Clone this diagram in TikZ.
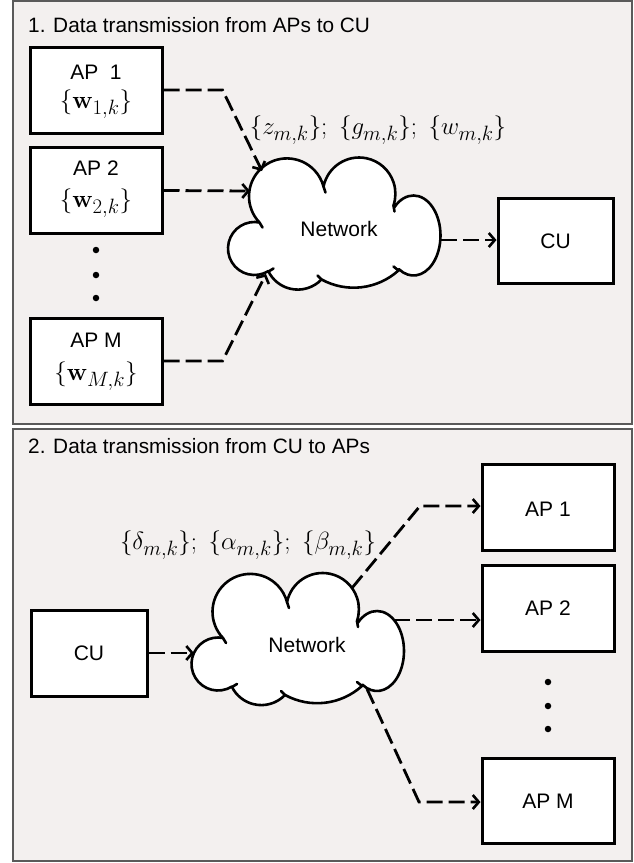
\documentclass[tikz,border=0pt]{standalone}
\usepackage[no-math]{fontspec}
\newfontfamily\sansf{Liberation Sans}
\usetikzlibrary{arrows.meta}
\definecolor{panelbg}{RGB}{243,240,239}
\definecolor{panelline}{RGB}{90,90,90}
\tikzset{
  panel/.style={draw=panelline,line width=1.4pt,fill=panelbg},
  box/.style={draw=black,line width=3pt,fill=white,minimum width=132pt,minimum height=86pt,inner sep=0pt},
  txt/.style={font=\sansf\fontsize{21}{25}\selectfont,inner sep=0pt},
  ttl/.style={font=\sansf\fontsize{20.8}{25}\selectfont,inner sep=0pt},
  mtxt/.style={font=\fontsize{24.88}{29}\selectfont,inner sep=0pt},
  cloudline/.style={draw=black,line width=2.6pt,fill=white,line join=round},
  link/.style={line width=2.8pt,dash pattern=on 16pt off 6pt,-{Straight Barb[length=6pt,width=14pt,line width=2.6pt]}},
  dotn/.style={circle,fill=black,inner sep=0pt,minimum size=6.5pt},
  netcloud/.pic={
    \filldraw[cloudline] ([shift={(58.7:26.5)}]-81,26) arc[start angle=58.7,end angle=281,radius=26.5]
      -- ([shift={(136.3:37.9)}]-48.6,-26.2) arc[start angle=136.3,end angle=344.9,radius=37.9]
      -- ([shift={(191.6:36.3)}]23.6,-28.7) arc[start angle=191.6,end angle=378.7,radius=36.3]
      -- ([shift={(225.3:27 and 40)}]78,13) arc[start angle=225.3,end angle=482.4,x radius=27,y radius=40]
      -- ([shift={(47.9:66.8)}]18.2,-1.6) arc[start angle=47.9,end angle=118.8,radius=66.8]
      -- ([shift={(43.9:32.8)}]-37.7,34.3) arc[start angle=43.9,end angle=153.3,radius=32.8]
      -- cycle;
    \draw[line width=2.6pt,line cap=round] (-12,-36) -- (-10,-30) (58,-17) -- (59,-11) (-76,0) -- (-73,5)
      (63,48) -- (58,44) (-14,57) -- (-18,53) (-67,49) -- (-62,46);
  }
}
\begin{document}
\begin{tikzpicture}[x=1pt,y=-1pt]
\useasboundingbox (0,0) rectangle (634,863);
% panels
\draw[panel] (13,1) rectangle (632,424);
\draw[panel] (13,429) rectangle (632,861);
% ---- top panel ----
\node[ttl,anchor=base west] (title1) at (28,32) {1. Data transmission from APs to CU};
\node[box] (ap1) at (96,90) {};
\node[txt] (ap1t) at (96,72) {AP\ \ 1};
\node[mtxt] (ap1w) at (96,104) {$\{\mathbf{w}_{1,k}\}$};
\node[box] (ap2) at (96,190.5) {};
\node[txt] (ap2t) at (96,168) {AP 2};
\node[mtxt] (ap2w) at (96,203) {$\{\mathbf{w}_{2,k}\}$};
\node[dotn] (d1) at (96,250) {};
\node[dotn] (d2) at (96,275) {};
\node[dotn] (d3) at (96,298) {};
\node[box] (apm) at (96,361) {};
\node[txt] (apmt) at (96,340) {AP M};
\node[mtxt] (apmw) at (96,376) {$\{\mathbf{w}_{M,k}\}$};
\pic at (335.5,222.5) {netcloud};
\node[txt] (net1) at (339,229) {Network};
\node[box,minimum width=115pt,minimum height=85pt] (cu1) at (555.5,240.5) {};
\node[txt] (cu1t) at (555.5,241) {CU};
\node[mtxt] (lab1) at (378,130) {$\{z_{m,k}\};\ \{g_{m,k}\};\ \{w_{m,k}\}$};
\coordinate (t1) at (262,171);
\coordinate (t2) at (250,191);
\coordinate (tm) at (266,274);
\coordinate (s1) at (441,240);
\draw[link] (ap1.east) -- ++(59,0) -- (t1);
\draw[link] (ap2.east) -- (t2);
\draw[link] (apm.east) -- ++(59,0) -- (tm);
\draw[link] (s1) -- (cu1.west |- s1);
% ---- bottom panel ----
\node[ttl,anchor=base west] (title2) at (28,453) {2. Data transmission from CU to APs};
\node[box,minimum width=116pt] (cu2) at (89,653) {};
\node[txt] (cu2t) at (89,653) {CU};
\pic at (299,638) {netcloud};
\node[txt] (net2) at (307,645) {Network};
\node[box] (bap1) at (548,507) {};
\node[txt] (bap1t) at (548,509) {AP 1};
\node[box] (bap2) at (548,608) {};
\node[txt] (bap2t) at (548,608) {AP 2};
\node[dotn] (e1) at (548,682) {};
\node[dotn] (e2) at (548,706) {};
\node[dotn] (e3) at (548,729) {};
\node[box,minimum height=85pt] (bapm) at (548,800.5) {};
\node[txt] (bapmt) at (548,801) {AP M};
\node[mtxt] (lab2) at (248,545) {$\{\delta_{m,k}\};\ \{\alpha_{m,k}\};\ \{\beta_{m,k}\}$};
\coordinate (u0) at (194,653);
\coordinate (u1) at (352,588);
\coordinate (u2) at (394,620);
\coordinate (u3) at (367,689);
\draw[link] (cu2.east) -- (u0);
\draw[link] (u1) -- (420,506) -- (bap1.west |- 0,506);
\draw[link] (u2) -- (bap2.west |- u2);
\draw[link] (u3) -- (419,802) -- (bapm.west |- 0,802);
\end{tikzpicture}
\end{document}
